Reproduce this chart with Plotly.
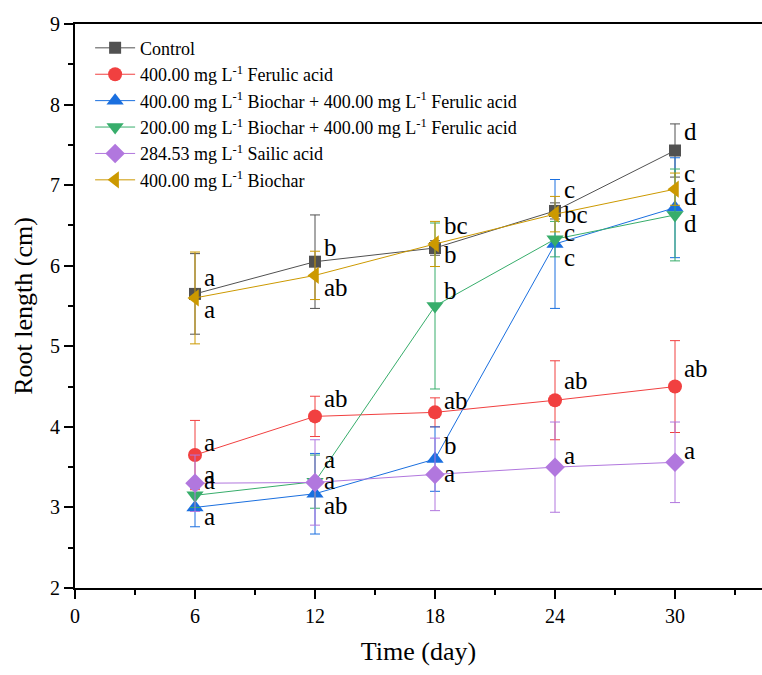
import plotly.graph_objects as go

days = [6, 12, 18, 24, 30]

series_names = [
    "Control",
    "400.00 mg L<sup>-1</sup> Ferulic acid",
    "400.00 mg L<sup>-1</sup> Biochar + 400.00 mg L<sup>-1</sup> Ferulic acid",
    "200.00 mg L<sup>-1</sup> Biochar + 400.00 mg L<sup>-1</sup> Ferulic acid",
    "284.53 mg L<sup>-1</sup> Sailic acid",
    "400.00 mg L<sup>-1</sup> Biochar",
]

control = [5.65, 6.05, 6.22, 6.68, 7.43]
ferulic = [3.65, 4.13, 4.18, 4.33, 4.50]
bio400_fa = [3.00, 3.17, 3.60, 6.27, 6.72]
bio200_fa = [3.15, 3.32, 5.50, 6.33, 6.63]
salicylic = [3.30, 3.31, 3.41, 3.50, 3.56]
biochar = [5.60, 5.88, 6.27, 6.64, 6.95]

control_err = [0.50, 0.58, 0.09, 0.10, 0.33]
ferulic_err = [0.43, 0.25, 0.18, 0.49, 0.57]
bio400_fa_err = [0.24, 0.50, 0.40, 0.80, 0.62]
bio200_fa_err = [0.15, 0.33, 1.03, 0.22, 0.57]
salicylic_err = [0.35, 0.53, 0.45, 0.56, 0.50]
biochar_err = [0.57, 0.30, 0.28, 0.22, 0.20]

control_letters = ["a", "b", "b", "c", "d"]
ferulic_letters = ["a", "ab", "ab", "ab", "ab"]
bio400_fa_letters = ["a", "ab", "b", "c", "d"]
bio200_fa_letters = ["a", "a", "b", "c", "d"]
salicylic_letters = ["a", "a", "a", "a", "a"]
biochar_letters = ["a", "ab", "bc", "bc", "c"]

means = [control, ferulic, bio400_fa, bio200_fa, salicylic, biochar]
errs = [control_err, ferulic_err, bio400_fa_err, bio200_fa_err, salicylic_err, biochar_err]
letters = [control_letters, ferulic_letters, bio400_fa_letters, bio200_fa_letters,
           salicylic_letters, biochar_letters]

# styles
colors = ["#515151", "#F14040", "#1A6FDF", "#37AD6B", "#B177DE", "#CC9900"]
symbols = ["square", "circle", "triangle-up", "triangle-down", "diamond", "triangle-left"]
msizes = [12, 14, 15, 15, 15, 15]
# label vertical offsets (data units, layout only)
label_off = [
    [0.20, 0.17, -0.08, 0.27, 0.24],
    [0.15, 0.22, 0.15, 0.24, 0.22],
    [-0.11, -0.14, 0.17, -0.17, 0.14],
    [0.19, 0.27, 0.19, 0.08, -0.11],
    [0.11, 0.02, 0.01, 0.15, 0.15],
    [-0.14, -0.15, 0.23, 0.0, 0.20],
]

FONT = "Liberation Serif"
PX_PER_UNIT = 564 / 7.0

fig = go.Figure()
for i in range(6):
    fig.add_trace(go.Scatter(
        x=days, y=means[i], name=series_names[i],
        mode="lines+markers",
        line=dict(color=colors[i], width=1),
        marker=dict(symbol=symbols[i], size=msizes[i], color=colors[i]),
        error_y=dict(type="data", array=errs[i], visible=True,
                     color=colors[i], thickness=1, width=5),
    ))

annotations = []
for i in range(6):
    for j, d in enumerate(days):
        annotations.append(dict(
            x=d, y=means[i][j], xref="x", yref="y",
            text=letters[i][j], showarrow=False,
            xanchor="left", yanchor="middle",
            xshift=7, yshift=label_off[i][j] * PX_PER_UNIT,
            font=dict(family=FONT, size=25, color="black"),
        ))

fig.update_layout(
    width=762, height=675,
    margin=dict(l=75, r=0, t=24, b=87),
    paper_bgcolor="white", plot_bgcolor="white",
    font=dict(family=FONT, color="black"),
    showlegend=True,
    legend=dict(
        x=0.022, y=0.99, xanchor="left", yanchor="top",
        font=dict(family=FONT, size=18, color="black"),
        bgcolor="rgba(0,0,0,0)", borderwidth=0,
        tracegroupgap=0, itemwidth=40,
    ),
    annotations=annotations,
)

fig.update_xaxes(
    range=[0, 34.35], tickmode="linear", tick0=0, dtick=6,
    showgrid=False, zeroline=False,
    showline=True, linecolor="black", linewidth=2, mirror=True,
    ticks="outside", ticklen=9, tickwidth=2, tickcolor="black",
    minor=dict(dtick=3, ticks="outside", ticklen=5, tickwidth=2, tickcolor="black"),
    tickfont=dict(family=FONT, size=20, color="black"),
    title=dict(text="Time (day)", font=dict(family=FONT, size=26, color="black"), standoff=16),
)
fig.update_yaxes(
    range=[2, 9], tickmode="linear", tick0=2, dtick=1,
    showgrid=False, zeroline=False,
    showline=True, linecolor="black", linewidth=2,
    ticks="outside", ticklen=9, tickwidth=2, tickcolor="black",
    minor=dict(dtick=0.5, ticks="outside", ticklen=5, tickwidth=2, tickcolor="black"),
    tickfont=dict(family=FONT, size=20, color="black"),
    title=dict(text="Root length (cm)", font=dict(family=FONT, size=26, color="black"), standoff=10),
)

fig.write_html("out.html")
